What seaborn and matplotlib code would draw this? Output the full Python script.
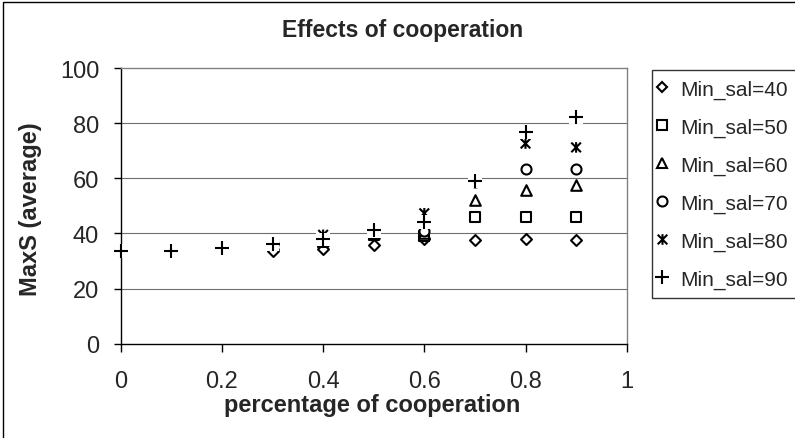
import numpy as np
import pandas as pd
import matplotlib
matplotlib.use("Agg")
import matplotlib.pyplot as plt
import seaborn as sns
from matplotlib.path import Path
from matplotlib.lines import Line2D
from matplotlib.patches import Rectangle

# ---------------- data ----------------
cooperation = [0.0, 0.1, 0.2, 0.3, 0.4, 0.5, 0.6, 0.7, 0.8, 0.9]
series_labels = ["Min_sal=40", "Min_sal=50", "Min_sal=60",
                 "Min_sal=70", "Min_sal=80", "Min_sal=90"]
maxs_40 = [33.5, 33.5, 34.8, 33.8, 34.5, 35.9, 38.0, 37.7, 37.8, 37.5]
maxs_50 = [33.5, 33.5, 34.8, 36.0, 37.0, 39.5, 39.0, 45.9, 45.9, 46.1]
maxs_60 = [33.5, 33.5, 34.8, 36.2, 37.5, 40.0, 40.0, 52.0, 55.9, 57.7]
maxs_70 = [33.5, 33.5, 34.8, 36.3, 37.8, 40.5, 41.0, 58.5, 63.3, 63.3]
maxs_80 = [33.5, 33.5, 34.8, 36.3, 39.5, 41.0, 47.3, 59.0, 72.6, 71.2]
maxs_90 = [33.5, 33.5, 34.8, 36.3, 37.8, 41.1, 44.1, 59.0, 76.9, 82.1]
series_values = [maxs_40, maxs_50, maxs_60, maxs_70, maxs_80, maxs_90]

x_ticks = [0, 0.2, 0.4, 0.6, 0.8, 1.0]
x_tick_labels = ["0", "0.2", "0.4", "0.6", "0.8", "1"]
y_ticks = [0, 20, 40, 60, 80, 100]
y_tick_labels = ["0", "20", "40", "60", "80", "100"]

title = "Effects of cooperation"
x_label = "percentage of cooperation"
y_label = "MaxS (average)"

# ---------------- style ----------------
sns.set_style("white")
plt.rcParams["font.family"] = ["Liberation Sans", "DejaVu Sans"]

W, H = 795, 439
fig = plt.figure(figsize=(W / 100, H / 100), dpi=100)
fig.patch.set_facecolor("white")

# outer chart-area frame (extends past right / bottom edge)
fig.patches.append(Rectangle((2.7 / W, -0.05), 1.2, 1 - 3.0 / H + 0.05,
                             transform=fig.transFigure, fill=False,
                             edgecolor="black", linewidth=1.0, zorder=0))

ax = fig.add_axes([120.7 / W, 1 - 344.7 / H, (626.7 - 120.7) / W, (344.7 - 69.0) / H])

asterisk = Path([(-1, -1), (1, 1), (-1, 1), (1, -1), (0, -1.1), (0, 1.1)],
                [Path.MOVETO, Path.LINETO] * 3)

marker_specs = [
    dict(marker="D", s=31, kind="filled"),
    dict(marker="s", s=50, kind="filled"),
    dict(marker="^", s=58, kind="filled"),
    dict(marker="o", s=52, kind="filled"),
    dict(marker=asterisk, s=58, kind="path"),
    dict(marker="+", s=88, kind="line"),
]
edge_lw = 1.5

df = pd.DataFrame({"cooperation": cooperation})
for i, (lab, vals, spec) in enumerate(zip(series_labels, series_values, marker_specs)):
    df[lab] = vals
    z = 4 + 2 * i
    if spec["kind"] == "filled":
        sns.scatterplot(data=df, x="cooperation", y=lab, ax=ax, marker=spec["marker"],
                        s=spec["s"], color="white", edgecolor="black",
                        linewidth=edge_lw, zorder=z, clip_on=False, legend=False)
        continue
    # white backing like the original spreadsheet markers
    sns.scatterplot(data=df, x="cooperation", y=lab, ax=ax, marker="s",
                    s=100, color="white", edgecolor="none", linewidth=0,
                    zorder=z - 1, clip_on=False, legend=False)
    if spec["kind"] == "path":
        sns.scatterplot(data=df, x="cooperation", y=lab, ax=ax, marker=spec["marker"],
                        s=spec["s"], facecolor="none", edgecolor="black",
                        linewidth=edge_lw, zorder=z, clip_on=False, legend=False)
    else:
        sns.scatterplot(data=df, x="cooperation", y=lab, ax=ax, marker=spec["marker"],
                        s=spec["s"], color="black",
                        linewidth=edge_lw, zorder=z, clip_on=False, legend=False)

ax.set_xlim(0, 1)
ax.set_ylim(0, 100)
ax.set_xticks(x_ticks)
ax.set_xticklabels(x_tick_labels)
ax.set_yticks(y_ticks)
ax.set_yticklabels(y_tick_labels)
ax.tick_params(axis="x", direction="out", length=5.8, width=1.0, color="black",
               labelsize=17, pad=13, bottom=True)
ax.tick_params(axis="y", direction="out", length=5.0, width=1.0, color="black",
               labelsize=17, pad=10.5, left=True)

for y in y_ticks[1:-1]:
    ax.axhline(y, color="#6e6e6e", linewidth=0.8, zorder=1)

ax.spines["left"].set_color("black")
ax.spines["bottom"].set_color("black")
ax.spines["top"].set_color("#808080")
ax.spines["right"].set_color("#808080")
for sp in ax.spines.values():
    sp.set_linewidth(1.0)
    sp.set_visible(True)

ax.set_xlabel(x_label, fontsize=17, fontweight="bold")
ax.set_ylabel(y_label, fontsize=17, fontweight="bold")
ax.xaxis.label.set_va("center")
ax.yaxis.label.set_va("center")
ax.xaxis.set_label_coords((371.7 - 120.7) / 506.0, (344.7 - 406.0) / 275.7)
ax.yaxis.set_label_coords((31.0 - 120.7) / 506.0, (344.7 - 209.5) / 275.7)

fig.text(403 / W, 1 - 30.5 / H, title, ha="center", va="center",
         fontsize=16.5, fontweight="bold")

# legend
handles = []
for spec in marker_specs:
    ms = np.sqrt(spec["s"])
    fc = "white" if spec["kind"] == "filled" else "none"
    handles.append(Line2D([], [], linestyle="None", marker=spec["marker"], markersize=ms,
                          markerfacecolor=fc, markeredgecolor="black",
                          markeredgewidth=edge_lw))

leg = fig.legend(handles, series_labels, loc="upper left",
                 bbox_to_anchor=(652.3 / W, 1 - 71.0 / H), bbox_transform=fig.transFigure,
                 borderaxespad=0, fontsize=15, frameon=True, fancybox=False, shadow=False,
                 borderpad=0.45, labelspacing=0.9, handlelength=0.05, handletextpad=0.84)
leg.get_frame().set_edgecolor("black")
leg.get_frame().set_linewidth(1.0)
leg.get_frame().set_facecolor("white")

fig.savefig("out.png", dpi=100, facecolor="white")
